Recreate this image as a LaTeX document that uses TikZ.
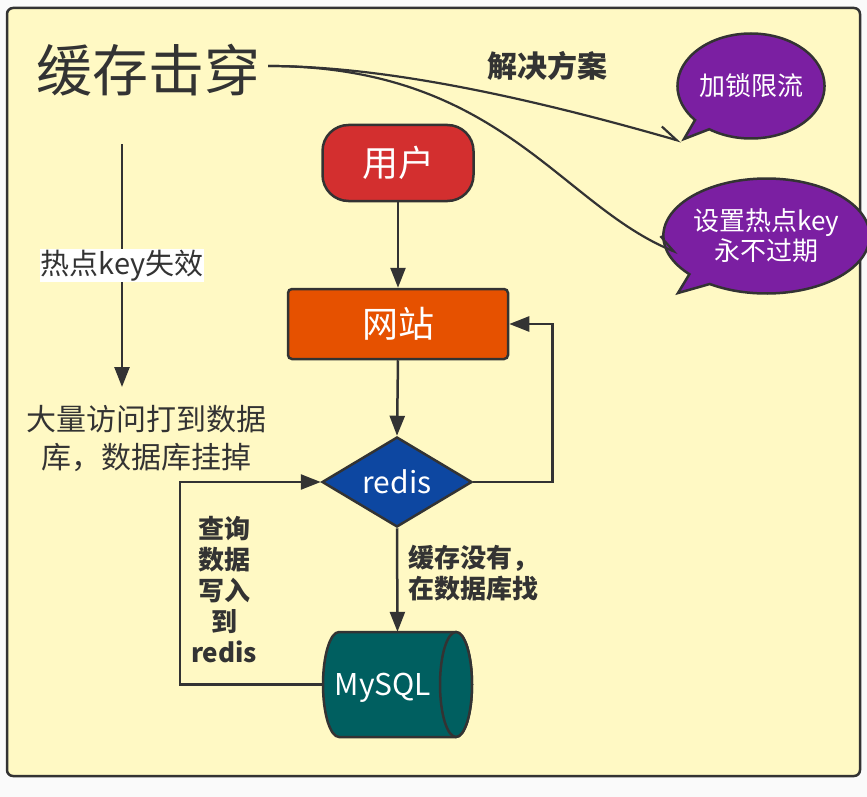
\documentclass[tikz,border=0pt]{standalone}
\usepackage{fontspec}
\setmainfont{Noto Sans CJK SC}
\usetikzlibrary{arrows.meta,shapes.geometric,shapes.callouts}
\definecolor{pagebg}{HTML}{FAFAFA}
\definecolor{panel}{HTML}{FFF9C4}
\definecolor{ink}{HTML}{333333}
\definecolor{cred}{HTML}{D32F2F}
\definecolor{corange}{HTML}{E65100}
\definecolor{cblue}{HTML}{0D47A1}
\definecolor{cteal}{HTML}{005F60}
\definecolor{cpurple}{HTML}{7B1FA2}
\begin{document}
\begin{tikzpicture}[x=1pt,y=-1pt,
  box/.style={draw=ink, line width=2.5pt, text=white, inner sep=0pt},
  flow/.style={draw=ink, line width=2.5pt, -{Triangle[length=20pt,width=15pt]}},
  curvy/.style={draw=ink, line width=2.2pt, -{Straight Barb[harpoon,length=18pt,width=18pt]}},
  bubble/.style={ellipse callout, draw=ink, line width=2.5pt, fill=cpurple, text=white, inner sep=0pt, align=center, font=\fontsize{26}{30}\selectfont},
  plain/.style={text=ink, inner sep=0pt},
  boldlabel/.style={text=ink, inner sep=0pt, font=\bfseries\fontsize{26}{31}\selectfont}
]
\useasboundingbox (0,0) rectangle (867,797);
\fill[pagebg] (0,0) rectangle (867,797);
\draw[fill=panel, draw=ink, line width=2.5pt, rounded corners=6pt] (7,8) rectangle (860,776);

% title and solutions
\node[plain, inner sep=8pt, font=\fontsize{56}{60}\selectfont] (title) at (148,70) {缓存击穿};
\node[plain, font=\bfseries\fontsize{30}{36}\selectfont] (plan) at (547,66) {解决方案};
\node[bubble, minimum width=136pt, minimum height=105pt, callout absolute pointer={(684,139)}] (b1) at (751,86) {加锁限流};
\node[bubble, minimum width=177pt, minimum height=115pt, callout absolute pointer={(678,293)}] (b2) at (766.5,236) {设置热点key\\永不过期};
\coordinate (c2end) at (678,253);
\draw[curvy] ([yshift=4pt]title.east) .. controls (380,66) and (520,95) .. (b1.pointer);
\draw[curvy] ([yshift=4pt]title.east) .. controls (500,66) and (560,205) .. (c2end);

% left explanation
\coordinate (ka) at (122,144);
\coordinate (kb) at (122,387);
\draw[flow] (ka) -- node[fill=white, text=ink, inner sep=1pt, font=\fontsize{29}{33}\selectfont] (hk) {热点key失效} (kb);
\node[plain, align=center, font=\fontsize{30}{38}\selectfont] (crash) at (146,438) {大量访问打到数据\\库，数据库挂掉};

% flow
\node[box, fill=cred, rounded corners=26pt, minimum width=151pt, minimum height=76pt, font=\fontsize{36}{40}\selectfont] (user) at (398,163) {用户};
\node[box, fill=corange, rounded corners=4pt, minimum width=220pt, minimum height=70pt, font=\fontsize{36}{40}\selectfont] (site) at (398,324) {网站};
\node[box, diamond, aspect=1.667, fill=cblue, minimum width=150pt, minimum height=90pt, font=\fontsize{30}{34}\selectfont] (redis) at (397,482) {redis};

\node[inner sep=0pt, minimum width=149pt, minimum height=105pt] (mysql) at (397.5,684.5) {};
\path[fill=cteal, draw=ink, line width=2.5pt]
  (339,632) -- (456,632) arc[start angle=90, end angle=-90, x radius=16pt, y radius=52.5pt]
  -- (339,737) arc[start angle=270, end angle=90, x radius=16pt, y radius=52.5pt] -- cycle;
\draw[fill=cteal, draw=ink, line width=2.5pt] (456,684.5) ellipse (16pt and 52.5pt);
\node[text=white, inner sep=0pt, font=\fontsize{30}{34}\selectfont] (mysqltext) at (383,688) {MySQL};

\draw[flow] (user.south) -- (site.north);
\draw[flow] (site.south) -- (redis.north);
\draw[flow] (redis.south) -- (mysql.north);
\draw[flow] (redis.east) -- ++(79,0) |- (site.east);
\draw[flow] (mysql.west) -- ++(-143,0) |- (redis.west);

\node[boldlabel, anchor=west, align=left] (miss) at (408,573) {缓存没有，\\在数据库找};
\node[boldlabel, align=center] (write) at (224,590) {查询\\数据\\写入\\到\\redis};
\end{tikzpicture}
\end{document}
